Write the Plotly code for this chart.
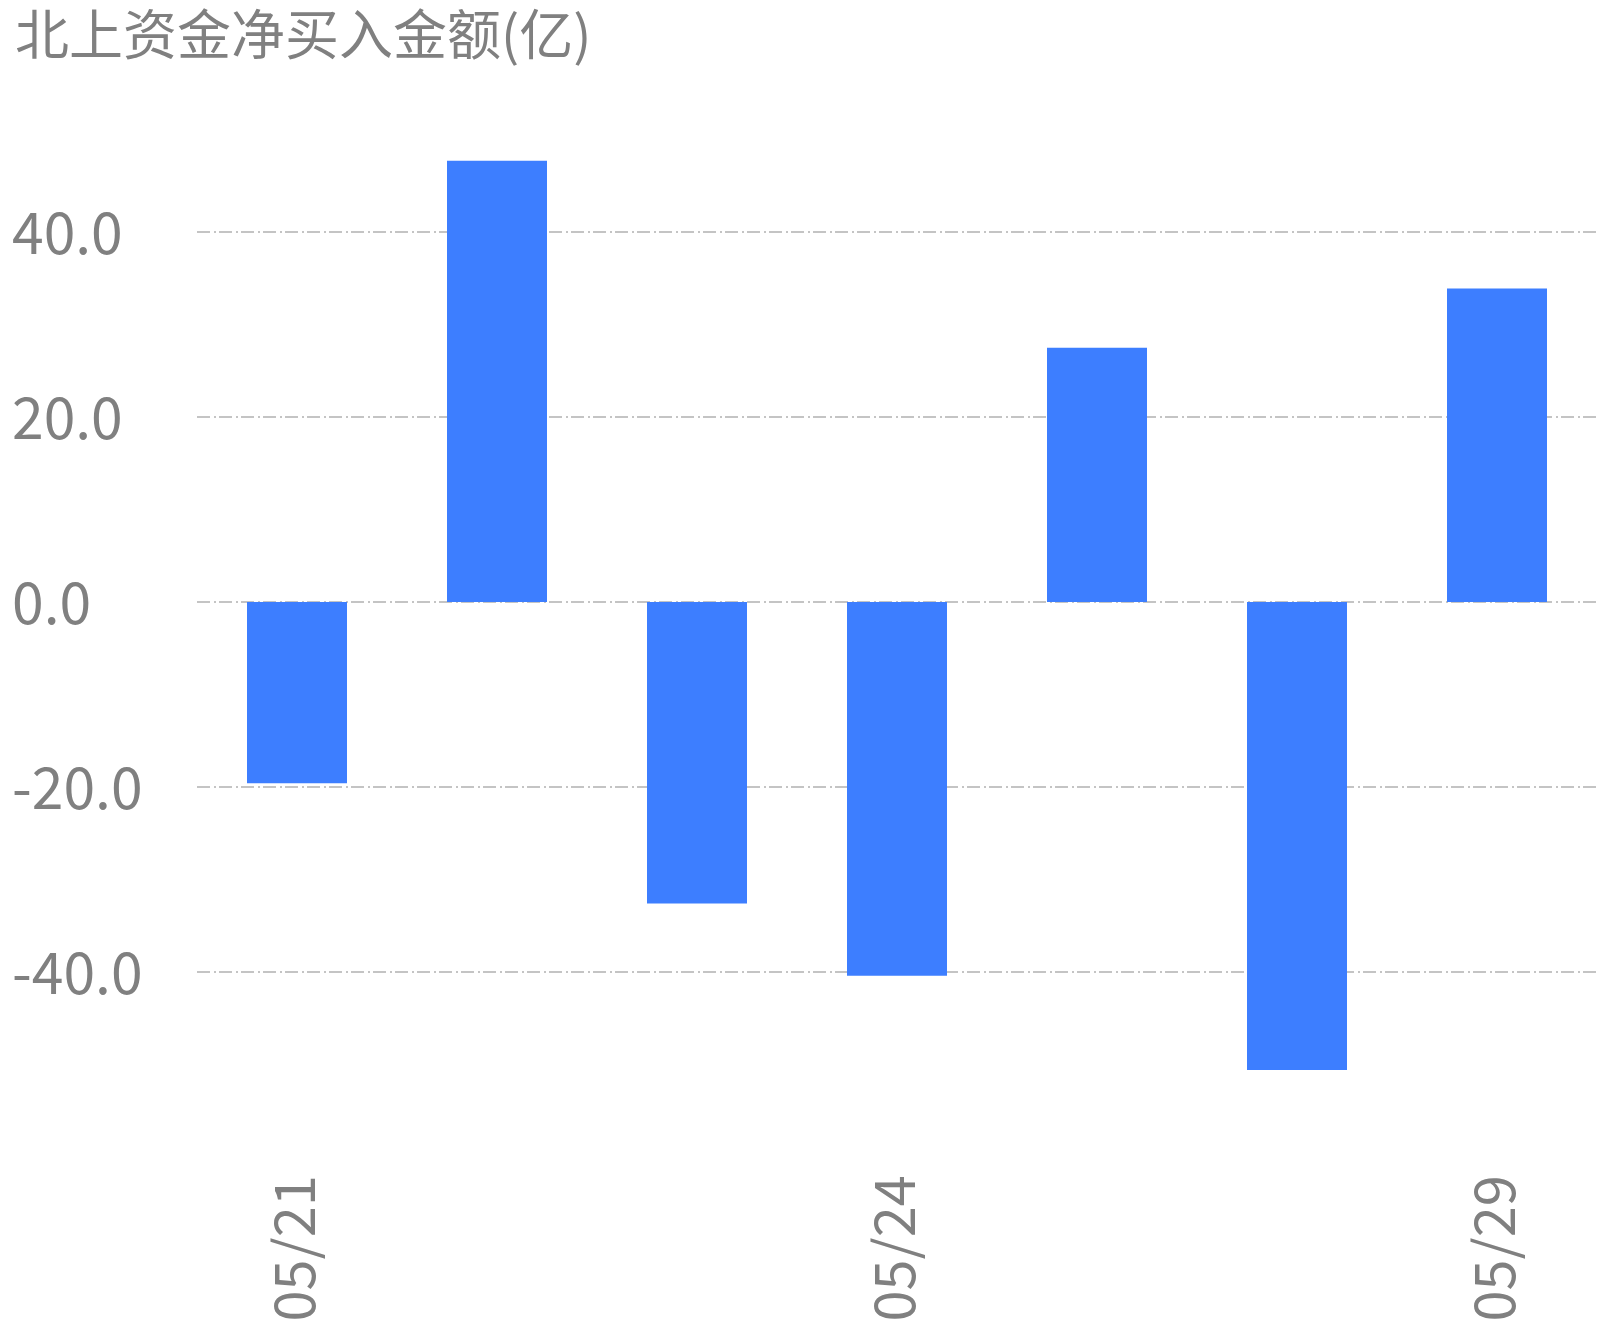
import plotly.graph_objects as go

dates = ["05/21", "05/22", "05/23", "05/24", "05/27", "05/28", "05/29"]
net_buy = [-19.6, 47.7, -32.6, -40.4, 27.5, -50.6, 33.9]
shown_dates = ["05/21", "05/24", "05/29"]
y_ticks = [-40, -20, 0, 20, 40]
y_tick_text = ["-40.0", "-20.0", "0.0", "20.0", "40.0"]
title_text = "北上资金净买入金额(亿)"

FONT = "Noto Sans CJK SC"
GRAY = "#808080"
# page has an 8px body margin; size the figure so it fits the viewport
W, H = 1598, 1322
ML, MR, MT, MB = 189, 9, 39, 173

fig = go.Figure(go.Bar(x=dates, y=net_buy, marker=dict(color="#3D7EFF", line=dict(width=0)),
                       width=0.5, hoverinfo="x+y"))

annotations = []
for v, t in zip(y_ticks, y_tick_text):
    annotations.append(dict(x=(2 - ML) / (W - ML - MR), xref="paper", y=v, yref="y",
                            text=t, showarrow=False, xanchor="left", yanchor="middle",
                            yshift=3,
                            font=dict(family=FONT, size=57, color=GRAY)))

fig.update_layout(
    width=W, height=H,
    margin=dict(l=ML, r=MR, t=MT, b=MB, autoexpand=False),
    paper_bgcolor="white", plot_bgcolor="white",
    showlegend=False,
    title=dict(text=title_text, x=7 / W, xanchor="left", xref="container",
               y=1 - 28 / H, yanchor="middle", yref="container",
               font=dict(family=FONT, size=54, color=GRAY)),
    xaxis=dict(type="category", tickmode="array", tickvals=shown_dates, ticktext=shown_dates,
               tickangle=-90, showgrid=False, zeroline=False, showline=False, ticks="",
               automargin=False, ticklabelstandoff=6,
               tickfont=dict(family=FONT, size=56, color=GRAY)),
    yaxis=dict(range=[-60, 60], tickmode="array", tickvals=y_ticks, showticklabels=False,
               showgrid=True, gridcolor="#c4c4c4", gridwidth=2,
               griddash="13px,3.5px,2px,3.5px", automargin=False,
               zeroline=False, showline=False, ticks=""),
    annotations=annotations,
    bargap=0.5,
)

fig.write_html("out.html")
